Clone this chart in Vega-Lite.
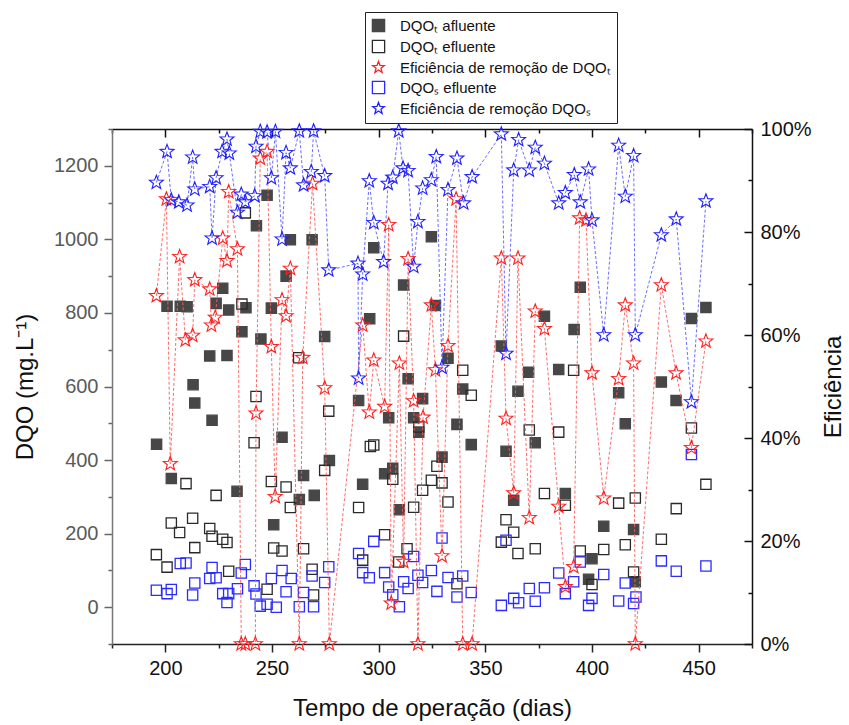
{
"$schema":"https://vega.github.io/schema/vega-lite/v6.json",
"width":640,"height":515,
"autosize":{"type":"none"},
"padding":{"left":112,"top":129,"right":97,"bottom":81},
"background":"white",
"config":{"view":{"stroke":null},"font":"Liberation Sans",
 "legend":{"strokeColor":"#222","fillColor":"white","padding":6,"labelFont":"Liberation Sans","labelFontSize":15,"labelColor":"#111","labelLimit":400,"rowPadding":2,"symbolStrokeWidth":1.3,"symbolSize":150,"labelOffset":14}},
"datasets":{"pts":[
{"d":195.9,"s":"a","v":443},{"d":200.8,"s":"a","v":818},{"d":202.8,"s":"a","v":350},{"d":207,"s":"a","v":818},{"d":210.2,"s":"a","v":817},{"d":213,"s":"a","v":605},{"d":213.8,"s":"a","v":555},{"d":220.8,"s":"a","v":683},{"d":221.9,"s":"a","v":508},{"d":223.8,"s":"a","v":826},{"d":226.9,"s":"a","v":867},{"d":228.9,"s":"a","v":684},{"d":229.7,"s":"a","v":808},{"d":233.6,"s":"a","v":315},{"d":235.9,"s":"a","v":749},{"d":237.8,"s":"a","v":814},{"d":242.7,"s":"a","v":1037},{"d":244.8,"s":"a","v":729},{"d":247.7,"s":"a","v":1120},{"d":249.7,"s":"a","v":813},{"d":250.8,"s":"a","v":224},{"d":254.7,"s":"a","v":462},{"d":256.6,"s":"a","v":900},{"d":258.6,"s":"a","v":999},{"d":262.8,"s":"a","v":293},{"d":264.8,"s":"a","v":358},{"d":268.8,"s":"a","v":999},{"d":269.8,"s":"a","v":304},{"d":274.7,"s":"a","v":736},{"d":276.9,"s":"a","v":399},{"d":290.6,"s":"a","v":562},{"d":292.5,"s":"a","v":334},{"d":295.8,"s":"a","v":784},{"d":297.7,"s":"a","v":977},{"d":302.8,"s":"a","v":363},{"d":304.7,"s":"a","v":515},{"d":306.6,"s":"a","v":378},{"d":309.7,"s":"a","v":265},{"d":311.7,"s":"a","v":876},{"d":313.8,"s":"a","v":621},{"d":316.4,"s":"a","v":515},{"d":318.8,"s":"a","v":476},{"d":320.6,"s":"a","v":567},{"d":324.7,"s":"a","v":1007},{"d":326.6,"s":"a","v":820},{"d":329.7,"s":"a","v":408},{"d":332.5,"s":"a","v":677},{"d":336.7,"s":"a","v":497},{"d":339.4,"s":"a","v":593},{"d":343.4,"s":"a","v":442},{"d":357.5,"s":"a","v":710},{"d":359.7,"s":"a","v":424},{"d":363.3,"s":"a","v":291},{"d":365.3,"s":"a","v":587},{"d":370.3,"s":"a","v":639},{"d":373.4,"s":"a","v":447},{"d":377.7,"s":"a","v":791},{"d":384.4,"s":"a","v":646},{"d":387.5,"s":"a","v":309},{"d":391.6,"s":"a","v":755},{"d":394.5,"s":"a","v":870},{"d":398.4,"s":"a","v":76},{"d":400,"s":"a","v":132},{"d":405.5,"s":"a","v":220},{"d":412.5,"s":"a","v":583},{"d":415.6,"s":"a","v":499},{"d":419.5,"s":"a","v":211},{"d":420.3,"s":"a","v":69},{"d":432.5,"s":"a","v":612},{"d":439.4,"s":"a","v":562},{"d":446.6,"s":"a","v":785},{"d":453.4,"s":"a","v":815},
{"d":195.8,"s":"b","v":143},{"d":200.8,"s":"b","v":109},{"d":202.8,"s":"b","v":229},{"d":206.7,"s":"b","v":203},{"d":209.7,"s":"b","v":336},{"d":212.8,"s":"b","v":242},{"d":213.8,"s":"b","v":162},{"d":220.8,"s":"b","v":214},{"d":221.9,"s":"b","v":193},{"d":223.8,"s":"b","v":304},{"d":226.9,"s":"b","v":185},{"d":228.9,"s":"b","v":176},{"d":229.7,"s":"b","v":98},{"d":235.9,"s":"b","v":824},{"d":237.5,"s":"b","v":1072},{"d":241.6,"s":"b","v":447},{"d":242.5,"s":"b","v":573},{"d":247.7,"s":"b","v":49},{"d":249.7,"s":"b","v":342},{"d":250.8,"s":"b","v":161},{"d":254.7,"s":"b","v":153},{"d":256.6,"s":"b","v":327},{"d":258.6,"s":"b","v":271},{"d":262.5,"s":"b","v":678},{"d":264.8,"s":"b","v":159},{"d":268.8,"s":"b","v":103},{"d":269.5,"s":"b","v":33},{"d":274.7,"s":"b","v":372},{"d":276.6,"s":"b","v":533},{"d":290.6,"s":"b","v":271},{"d":292.5,"s":"b","v":128},{"d":296.1,"s":"b","v":437},{"d":297.7,"s":"b","v":441},{"d":302.8,"s":"b","v":197},{"d":306.6,"s":"b","v":348},{"d":309.4,"s":"b","v":123},{"d":311.7,"s":"b","v":737},{"d":313.3,"s":"b","v":159},{"d":316.4,"s":"b","v":272},{"d":318.8,"s":"b","v":490},{"d":320.6,"s":"b","v":318},{"d":324.7,"s":"b","v":345},{"d":327.3,"s":"b","v":383},{"d":329.7,"s":"b","v":338},{"d":332.5,"s":"b","v":286},{"d":336.7,"s":"b","v":64},{"d":339.4,"s":"b","v":644},{"d":343.4,"s":"b","v":576},{"d":357.5,"s":"b","v":177},{"d":359.7,"s":"b","v":238},{"d":363.3,"s":"b","v":204},{"d":365.3,"s":"b","v":146},{"d":370.6,"s":"b","v":482},{"d":373.4,"s":"b","v":159},{"d":377.7,"s":"b","v":309},{"d":384.4,"s":"b","v":476},{"d":387.5,"s":"b","v":277},{"d":391.4,"s":"b","v":644},{"d":394.5,"s":"b","v":153},{"d":400,"s":"b","v":62},{"d":405.5,"s":"b","v":157},{"d":412.5,"s":"b","v":283},{"d":415.6,"s":"b","v":170},{"d":419.5,"s":"b","v":96},{"d":420.3,"s":"b","v":297},{"d":432.5,"s":"b","v":185},{"d":439.5,"s":"b","v":268},{"d":446.6,"s":"b","v":487},{"d":453.4,"s":"b","v":334},
{"d":195.8,"s":"d","v":46},{"d":200.8,"s":"d","v":37},{"d":202.8,"s":"d","v":48},{"d":207,"s":"d","v":119},{"d":209.7,"s":"d","v":120},{"d":212.8,"s":"d","v":33},{"d":213.8,"s":"d","v":66},{"d":220.8,"s":"d","v":78},{"d":221.9,"s":"d","v":108},{"d":223.8,"s":"d","v":80},{"d":226.9,"s":"d","v":37},{"d":228.9,"s":"d","v":13},{"d":229.7,"s":"d","v":37},{"d":233.8,"s":"d","v":50},{"d":235.6,"s":"d","v":93},{"d":237.5,"s":"d","v":116},{"d":241.6,"s":"d","v":58},{"d":242.5,"s":"d","v":36},{"d":244.5,"s":"d","v":3},{"d":247.7,"s":"d","v":8},{"d":249.7,"s":"d","v":78},{"d":252,"s":"d","v":0},{"d":254.7,"s":"d","v":100},{"d":256.6,"s":"d","v":42},{"d":259,"s":"d","v":78},{"d":262.8,"s":"d","v":1},{"d":264.8,"s":"d","v":40},{"d":268.8,"s":"d","v":85},{"d":269.5,"s":"d","v":1},{"d":274.7,"s":"d","v":67},{"d":276.6,"s":"d","v":110},{"d":290.6,"s":"d","v":146},{"d":292.5,"s":"d","v":94},{"d":295.6,"s":"d","v":80},{"d":297.7,"s":"d","v":179},{"d":302.8,"s":"d","v":94},{"d":304.7,"s":"d","v":55},{"d":306.6,"s":"d","v":34},{"d":309.7,"s":"d","v":1},{"d":311.7,"s":"d","v":69},{"d":313.8,"s":"d","v":51},{"d":316.4,"s":"d","v":138},{"d":318.4,"s":"d","v":87},{"d":320.6,"s":"d","v":67},{"d":324.7,"s":"d","v":100},{"d":327.3,"s":"d","v":43},{"d":329.7,"s":"d","v":188},{"d":332.5,"s":"d","v":81},{"d":336.7,"s":"d","v":28},{"d":339.4,"s":"d","v":85},{"d":343.4,"s":"d","v":40},{"d":357.5,"s":"d","v":5},{"d":359.7,"s":"d","v":182},{"d":363.3,"s":"d","v":24},{"d":365.6,"s":"d","v":12},{"d":370.6,"s":"d","v":51},{"d":373.4,"s":"d","v":16},{"d":377.7,"s":"d","v":53},{"d":384.4,"s":"d","v":93},{"d":387.5,"s":"d","v":37},{"d":391.4,"s":"d","v":69},{"d":394.5,"s":"d","v":123},{"d":398.4,"s":"d","v":5},{"d":400,"s":"d","v":24},{"d":405.5,"s":"d","v":89},{"d":412.5,"s":"d","v":17},{"d":415.6,"s":"d","v":66},{"d":419.5,"s":"d","v":10},{"d":420.6,"s":"d","v":28},{"d":432.5,"s":"d","v":126},{"d":439.5,"s":"d","v":98},{"d":446.6,"s":"d","v":415},{"d":453.4,"s":"d","v":112}
],
"eff":[
{"d":195.8,"s":"c","v":0.676},{"d":200.5,"s":"c","v":0.864},{"d":202.3,"s":"c","v":0.35},{"d":206.7,"s":"c","v":0.752},{"d":209.4,"s":"c","v":0.59},{"d":212.8,"s":"c","v":0.599},{"d":213.8,"s":"c","v":0.707},{"d":220.8,"s":"c","v":0.689},{"d":221.6,"s":"c","v":0.619},{"d":223.4,"s":"c","v":0.634},{"d":226.9,"s":"c","v":0.788},{"d":228.9,"s":"c","v":0.744},{"d":229.7,"s":"c","v":0.878},{"d":233.8,"s":"c","v":0.767},{"d":235.6,"s":"c","v":0},{"d":237.5,"s":"c","v":0},{"d":242.2,"s":"c","v":0},{"d":242.5,"s":"c","v":0.448},{"d":244.5,"s":"c","v":0.943},{"d":247.7,"s":"c","v":0.956},{"d":249.7,"s":"c","v":0.577},{"d":251.5,"s":"c","v":0.286},{"d":254.7,"s":"c","v":0.668},{"d":256.6,"s":"c","v":0.637},{"d":258.6,"s":"c","v":0.729},{"d":262.8,"s":"c","v":0},{"d":264.4,"s":"c","v":0.556},{"d":269,"s":"c","v":0.894},{"d":274.7,"s":"c","v":0.497},{"d":276.9,"s":"c","v":0},{"d":292.5,"s":"c","v":0.619},{"d":295.6,"s":"c","v":0.45},{"d":297.7,"s":"c","v":0.551},{"d":302.8,"s":"c","v":0.461},{"d":304.7,"s":"c","v":0.814},{"d":305.9,"s":"c","v":0.079},{"d":309.7,"s":"c","v":0.545},{"d":311.7,"s":"c","v":0.16},{"d":313.8,"s":"c","v":0.748},{"d":316.4,"s":"c","v":0.472},{"d":318.4,"s":"c","v":0},{"d":320.8,"s":"c","v":0.44},{"d":324.7,"s":"c","v":0.658},{"d":326.6,"s":"c","v":0.532},{"d":329.7,"s":"c","v":0.171},{"d":332.5,"s":"c","v":0.579},{"d":336.3,"s":"c","v":0.864},{"d":339.4,"s":"c","v":0},{"d":343.8,"s":"c","v":0},{"d":357.5,"s":"c","v":0.749},{"d":359.7,"s":"c","v":0.438},{"d":363.3,"s":"c","v":0.293},{"d":365.3,"s":"c","v":0.749},{"d":370.6,"s":"c","v":0.245},{"d":373.4,"s":"c","v":0.646},{"d":377.7,"s":"c","v":0.612},{"d":384.4,"s":"c","v":0.267},{"d":387.5,"s":"c","v":0.111},{"d":391.4,"s":"c","v":0.15},{"d":394.2,"s":"c","v":0.827},{"d":397.2,"s":"c","v":0.823},{"d":400,"s":"c","v":0.526},{"d":405.5,"s":"c","v":0.283},{"d":412.5,"s":"c","v":0.515},{"d":415.6,"s":"c","v":0.658},{"d":419.5,"s":"c","v":0.545},{"d":420.3,"s":"c","v":0},{"d":432.5,"s":"c","v":0.697},{"d":439.4,"s":"c","v":0.526},{"d":446.6,"s":"c","v":0.381},{"d":453.4,"s":"c","v":0.588},
{"d":195.8,"s":"e","v":0.896},{"d":200.8,"s":"e","v":0.956},{"d":202.8,"s":"e","v":0.862},{"d":206.3,"s":"e","v":0.858},{"d":210.2,"s":"e","v":0.852},{"d":212.8,"s":"e","v":0.945},{"d":213.8,"s":"e","v":0.883},{"d":220.8,"s":"e","v":0.888},{"d":221.9,"s":"e","v":0.788},{"d":223.8,"s":"e","v":0.905},{"d":226.6,"s":"e","v":0.956},{"d":228.9,"s":"e","v":0.98},{"d":230,"s":"e","v":0.953},{"d":233.8,"s":"e","v":0.838},{"d":235.6,"s":"e","v":0.873},{"d":237.5,"s":"e","v":0.858},{"d":241.9,"s":"e","v":0.87},{"d":242.5,"s":"e","v":0.966},{"d":244.5,"s":"e","v":0.995},{"d":247.7,"s":"e","v":0.994},{"d":249.7,"s":"e","v":0.905},{"d":251.6,"s":"e","v":0.995},{"d":254.7,"s":"e","v":0.786},{"d":256.6,"s":"e","v":0.954},{"d":258.6,"s":"e","v":0.924},{"d":262.8,"s":"e","v":0.996},{"d":264.8,"s":"e","v":0.891},{"d":268.4,"s":"e","v":0.917},{"d":269.5,"s":"e","v":0.996},{"d":274.7,"s":"e","v":0.909},{"d":276.6,"s":"e","v":0.726},{"d":290.3,"s":"e","v":0.739},{"d":290.6,"s":"e","v":0.516},{"d":292.5,"s":"e","v":0.718},{"d":295.6,"s":"e","v":0.899},{"d":297.7,"s":"e","v":0.818},{"d":302.3,"s":"e","v":0.742},{"d":304.4,"s":"e","v":0.894},{"d":306.6,"s":"e","v":0.906},{"d":309.4,"s":"e","v":0.996},{"d":311.4,"s":"e","v":0.924},{"d":313.8,"s":"e","v":0.919},{"d":316.4,"s":"e","v":0.733},{"d":318.4,"s":"e","v":0.82},{"d":320.6,"s":"e","v":0.885},{"d":324.7,"s":"e","v":0.901},{"d":327,"s":"e","v":0.946},{"d":329.7,"s":"e","v":0.537},{"d":332.5,"s":"e","v":0.882},{"d":336.7,"s":"e","v":0.943},{"d":339.8,"s":"e","v":0.856},{"d":343.8,"s":"e","v":0.907},{"d":357.5,"s":"e","v":0.99},{"d":359.7,"s":"e","v":0.564},{"d":363.3,"s":"e","v":0.92},{"d":365.6,"s":"e","v":0.979},{"d":370.6,"s":"e","v":0.92},{"d":373.4,"s":"e","v":0.964},{"d":377.7,"s":"e","v":0.933},{"d":384.4,"s":"e","v":0.856},{"d":387.5,"s":"e","v":0.876},{"d":391.7,"s":"e","v":0.911},{"d":394.5,"s":"e","v":0.858},{"d":398.4,"s":"e","v":0.922},{"d":400,"s":"e","v":0.823},{"d":405.5,"s":"e","v":0.6},{"d":412.5,"s":"e","v":0.968},{"d":415.6,"s":"e","v":0.869},{"d":419.5,"s":"e","v":0.948},{"d":420.3,"s":"e","v":0.6},{"d":432.5,"s":"e","v":0.794},{"d":439.5,"s":"e","v":0.825},{"d":446.6,"s":"e","v":0.47},{"d":453.4,"s":"e","v":0.86}
]},
"layer":[
 {"data":{"name":"pts"},
  "mark":{"type":"point","size":105,"strokeWidth":1.3,"opacity":1},
  "encoding":{
   "x":{"field":"d","type":"quantitative","scale":{"domain":[175,475],"nice":false,"zero":false},
     "axis":{"orient":"bottom","values":[175,200,225,250,275,300,325,350,375,400,425,450,475],"labelExpr":"datum.value % 50 == 0 ? datum.label : ''","title":"Tempo de operação (dias)","titleFontSize":24,"titleFontWeight":"normal","titleColor":"#111","titlePadding":18,"labelFontSize":20,"labelColor":"#111","labelPadding":6,"tickColor":"#222","domainColor":"#222","domainWidth":1.5,"tickWidth":1.5,"tickSize":{"condition":{"test":"datum.value % 50 == 0","value":8},"value":4},"grid":false,"labelFlush":false}},
   "y":{"field":"v","type":"quantitative","scale":{"domain":[-100,1300],"nice":false,"zero":false},
     "axis":{"orient":"left","values":[-100,0,100,200,300,400,500,600,700,800,900,1000,1100,1200,1300],"labelExpr":"datum.value % 200 == 0 && datum.value >= 0 ? datum.label : ''","format":"d","title":"DQO (mg.L⁻¹)","titleFontSize":24,"titleFontWeight":"normal","titleColor":"#111","titlePadding":16,"labelFontSize":20,"labelColor":"#5a5a5a","labelPadding":6,"tickColor":"#666","domainColor":"#777","domainWidth":1.5,"tickWidth":1.5,"tickSize":{"condition":{"test":"datum.value % 200 == 0","value":8},"value":4},"grid":false,"labelFlush":false}},
   "shape":{"field":"s","type":"nominal","scale":{"domain":["a","b","c","d","e"],"range":["square","square","M0,-1L0.247,-0.34L0.951,-0.309L0.399,0.13L0.588,0.809L0,0.42L-0.588,0.809L-0.399,0.13L-0.951,-0.309L-0.247,-0.34Z","square","M0,-1L0.247,-0.34L0.951,-0.309L0.399,0.13L0.588,0.809L0,0.42L-0.588,0.809L-0.399,0.13L-0.951,-0.309L-0.247,-0.34Z"]},
     "legend":{"title":null,"orient":"none","legendX":253,"legendY":-117,"labelExpr":"datum.value == 'a' ? 'DQOₜ afluente' : datum.value == 'b' ? 'DQOₜ efluente' : datum.value == 'c' ? 'Eficiência de remoção de DQOₜ' : datum.value == 'd' ? 'DQOₛ efluente' : 'Eficiência de remoção DQOₛ'"}},
   "stroke":{"field":"s","type":"nominal","scale":{"domain":["a","b","c","d","e"],"range":["#474747","#2a2a2a","#ff2020","#2b2bff","#2020ff"]},
     "legend":{"title":null,"orient":"none","legendX":253,"legendY":-117,"labelExpr":"datum.value == 'a' ? 'DQOₜ afluente' : datum.value == 'b' ? 'DQOₜ efluente' : datum.value == 'c' ? 'Eficiência de remoção de DQOₜ' : datum.value == 'd' ? 'DQOₛ efluente' : 'Eficiência de remoção DQOₛ'"}},
   "fill":{"field":"s","type":"nominal","scale":{"domain":["a","b","c","d","e"],"range":["#474747","transparent","transparent","transparent","transparent"]},
     "legend":{"title":null,"orient":"none","legendX":253,"legendY":-117,"labelExpr":"datum.value == 'a' ? 'DQOₜ afluente' : datum.value == 'b' ? 'DQOₜ efluente' : datum.value == 'c' ? 'Eficiência de remoção de DQOₜ' : datum.value == 'd' ? 'DQOₛ efluente' : 'Eficiência de remoção DQOₛ'"}}
  }},
 {"data":{"name":"eff"},
  "transform":[{"filter":"datum.s == 'c'"}],
  "mark":{"type":"line","stroke":"#ff5a5a","strokeWidth":0.9,"strokeDash":[3,2]},
  "encoding":{
   "x":{"field":"d","type":"quantitative","scale":{"domain":[175,475],"nice":false,"zero":false},
     "axis":{"orient":"top","values":[175,200,225,250,275,300,325,350,375,400,425,450,475],"labels":false,"title":null,"tickColor":"#111","domainColor":"#111","domainWidth":1.5,"tickWidth":1.5,"tickSize":{"condition":{"test":"datum.value % 50 == 0","value":-8},"value":-4},"grid":false}},
   "y":{"field":"v","type":"quantitative","scale":{"domain":[0,1],"nice":false,"zero":false},"axis":null}
  }},
 {"data":{"name":"eff"},
  "transform":[{"filter":"datum.s == 'e'"}],
  "mark":{"type":"line","stroke":"#5a5aff","strokeWidth":0.9,"strokeDash":[3,2]},
  "encoding":{
   "x":{"field":"d","type":"quantitative","scale":{"domain":[175,475],"nice":false,"zero":false},"axis":null},
   "y":{"field":"v","type":"quantitative","scale":{"domain":[0,1],"nice":false,"zero":false},"axis":null}
  }},
 {"data":{"name":"eff"},
  "mark":{"type":"point","size":215,"strokeWidth":1.1,"opacity":1},
  "encoding":{
   "x":{"field":"d","type":"quantitative","scale":{"domain":[175,475],"nice":false,"zero":false},"axis":null},
   "y":{"field":"v","type":"quantitative","scale":{"domain":[0,1],"nice":false,"zero":false},
     "axis":{"orient":"right","values":[0,0.1,0.2,0.3,0.4,0.5,0.6,0.7,0.8,0.9,1],"format":".0%","labelExpr":"round(datum.value*10) % 2 == 0 ? datum.label : ''","title":"Eficiência","titleAngle":270,"titleFontSize":24,"titleFontWeight":"normal","titleColor":"#111","titlePadding":34,"labelFontSize":20,"labelColor":"#111","labelPadding":16,"tickColor":"#111","domainColor":"#111","domainWidth":1.5,"tickWidth":1.5,"tickSize":{"condition":{"test":"round(datum.value*10) % 2 == 0","value":-8},"value":-4},"grid":false,"labelFlush":false}},
   "shape":{"field":"s","type":"nominal","scale":{"domain":["a","b","c","d","e"],"range":["square","square","M0,-1L0.247,-0.34L0.951,-0.309L0.399,0.13L0.588,0.809L0,0.42L-0.588,0.809L-0.399,0.13L-0.951,-0.309L-0.247,-0.34Z","square","M0,-1L0.247,-0.34L0.951,-0.309L0.399,0.13L0.588,0.809L0,0.42L-0.588,0.809L-0.399,0.13L-0.951,-0.309L-0.247,-0.34Z"]},
     "legend":{"title":null,"orient":"none","legendX":253,"legendY":-117,"labelExpr":"datum.value == 'a' ? 'DQOₜ afluente' : datum.value == 'b' ? 'DQOₜ efluente' : datum.value == 'c' ? 'Eficiência de remoção de DQOₜ' : datum.value == 'd' ? 'DQOₛ efluente' : 'Eficiência de remoção DQOₛ'"}},
   "stroke":{"field":"s","type":"nominal","scale":{"domain":["a","b","c","d","e"],"range":["#474747","#2a2a2a","#ff2020","#2b2bff","#2020ff"]},
     "legend":{"title":null,"orient":"none","legendX":253,"legendY":-117,"labelExpr":"datum.value == 'a' ? 'DQOₜ afluente' : datum.value == 'b' ? 'DQOₜ efluente' : datum.value == 'c' ? 'Eficiência de remoção de DQOₜ' : datum.value == 'd' ? 'DQOₛ efluente' : 'Eficiência de remoção DQOₛ'"}},
   "fill":{"field":"s","type":"nominal","scale":{"domain":["a","b","c","d","e"],"range":["#474747","transparent","transparent","transparent","transparent"]},
     "legend":{"title":null,"orient":"none","legendX":253,"legendY":-117,"labelExpr":"datum.value == 'a' ? 'DQOₜ afluente' : datum.value == 'b' ? 'DQOₜ efluente' : datum.value == 'c' ? 'Eficiência de remoção de DQOₜ' : datum.value == 'd' ? 'DQOₛ efluente' : 'Eficiência de remoção DQOₛ'"}}
  }}
],
"resolve":{"scale":{"y":"independent"},"axis":{"x":"independent","y":"independent"}}
}
